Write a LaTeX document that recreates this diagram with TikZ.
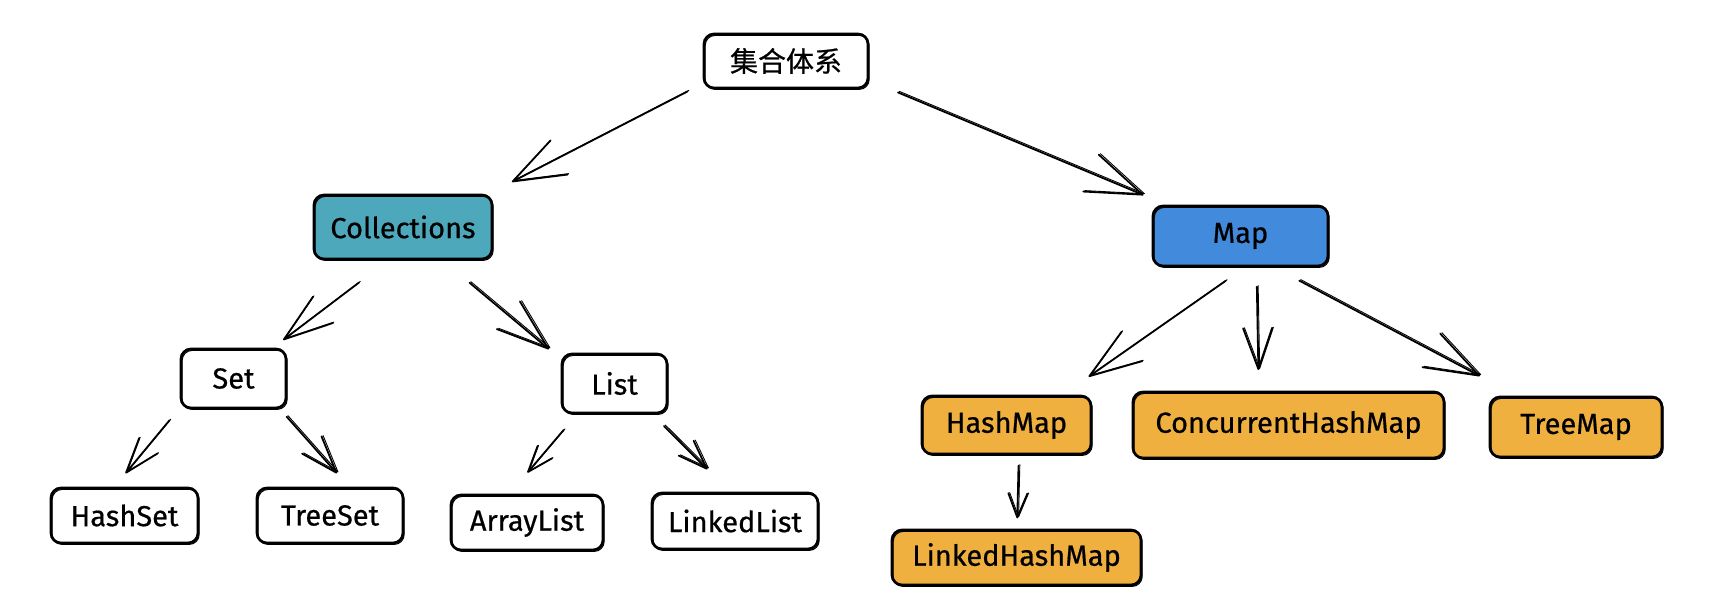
\documentclass[tikz,border=0pt]{standalone}
\usepackage{fontspec}
\setmainfont[FakeBold=0.6]{Fira Sans}
\newfontfamily\cjk[FakeBold=0.6]{Noto Sans CJK SC}
\usetikzlibrary{arrows.meta}
\definecolor{tealfill}{RGB}{78,168,187}
\definecolor{bluefill}{RGB}{66,138,220}
\definecolor{orangefill}{RGB}{240,176,64}
\tikzset{
  box/.style={draw=black, line width=2.7pt, rounded corners=10pt, inner sep=0pt,
    outer sep=0pt, align=center, font=\fontsize{29}{34}\selectfont,
    postaction={draw=black, line width=1pt, rounded corners=10pt,
      transform canvas={shift={(1.2pt,-1.4pt)}}}},
  arr/.style={draw=black, line width=1.8pt, line cap=round, line join=round,
    postaction={draw=black, line width=0.9pt,
      transform canvas={shift={(1.3pt,1.1pt)}}}},
}
\newcommand{\hd}[2]{-{Straight Barb[length=#1pt,width=#2pt,round]}}
\begin{document}
\begin{tikzpicture}[x=1pt,y=-1pt]
\useasboundingbox (0,0) rectangle (1712,610);
\fill[white] (0,0) rectangle (1712,610);

% nodes
\node[box, minimum width=164pt, minimum height=54pt] (top) at (786,61) {\fontsize{28}{32}\selectfont\cjk 集合体系};
\node[box, fill=tealfill, minimum width=178pt, minimum height=64pt] (coll) at (403,227) {Collections};
\node[box, fill=bluefill, minimum width=175pt, minimum height=60pt] (map) at (1240.5,236) {Map};
\node[box, minimum width=105pt, minimum height=59pt] (set) at (233.5,378.5) {Set};
\node[box, minimum width=105pt, minimum height=59pt] (list) at (614.5,383.5) {List};
\node[box, minimum width=147pt, minimum height=55pt] (hashset) at (124.5,515.5) {HashSet};
\node[box, minimum width=146pt, minimum height=55pt] (treeset) at (330,515.5) {TreeSet};
\node[box, minimum width=152pt, minimum height=55pt] (arraylist) at (527,522.5) {ArrayList};
\node[box, minimum width=166pt, minimum height=56pt] (linkedlist) at (735,521) {LinkedList};
\node[box, fill=orangefill, minimum width=169pt, minimum height=58pt] (hashmap) at (1006.5,425) {HashMap};
\node[box, fill=orangefill, minimum width=311pt, minimum height=66pt] (chm) at (1288.5,425) {ConcurrentHashMap};
\node[box, fill=orangefill, minimum width=172pt, minimum height=60pt] (treemap) at (1576,427) {TreeMap};
\node[box, fill=orangefill, minimum width=249pt, minimum height=55pt] (lhm) at (1016.5,557.5) {LinkedHashMap};

% connectors
\draw[arr, \hd{52}{38}, shorten <=18.5pt, shorten >=28.7pt] (top.195) -- (coll.21);
\draw[arr, \hd{56}{40}, shorten <=32.5pt, shorten >=28.5pt] (top.-13) -- (map.157);
\draw[arr, \hd{49}{33}, shorten <=39pt, shorten >=15pt] (coll.-112) -- (set.38);
\draw[arr, \hd{52}{36}, shorten <=37pt, shorten >=17pt] (coll.-40) -- (list.156);
\draw[arr, \hd{35}{24}, shorten <=18pt, shorten >=19pt] (set.-152) -- (hashset.112);
\draw[arr, \hd{37}{26}, shorten <=11.6pt, shorten >=19.6pt] (set.-33) -- (treeset.54);
\draw[arr, \hd{26}{19}, shorten <=22.3pt, shorten >=29.3pt] (list.-141) -- (arraylist.124);
\draw[arr, \hd{29}{21}, shorten <=18.4pt, shorten >=33.5pt] (list.-39) -- (linkedlist.98);
\draw[arr, \hd{52}{36}, shorten <=25.7pt, shorten >=33.7pt] (map.-78) -- (hashmap.28);
\draw[arr, \hd{41}{29}, shorten <=20.7pt, shorten >=22pt] (map.-62) -- (chm.132);
\draw[arr, \hd{54}{38}, shorten <=31.4pt, shorten >=44.9pt] (map.-44) -- (treemap.152);
\draw[arr, \hd{24}{19}, shorten <=11.7pt, shorten >=11.7pt] (hashmap.-67) -- (lhm.89);
\end{tikzpicture}
\end{document}
